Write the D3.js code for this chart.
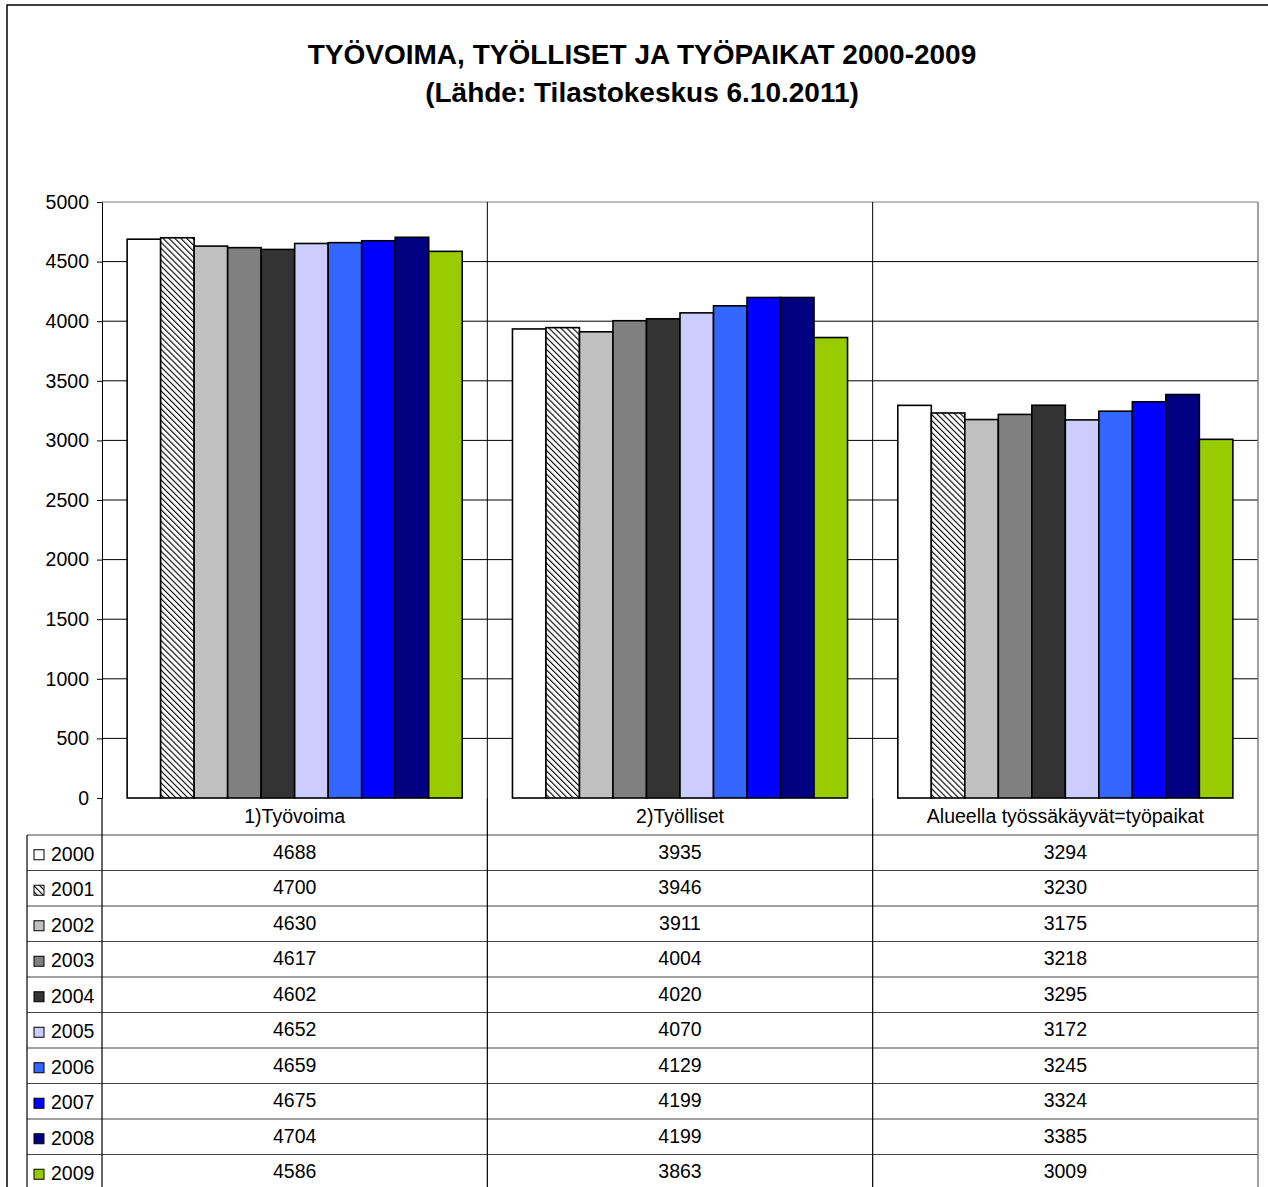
<!DOCTYPE html>
<html>
<head>
<meta charset="utf-8">
<script src="https://cdn.jsdelivr.net/npm/d3@7"></script>
<style>
  body { margin: 0; background: #fff; }
  svg { display: block; font-family: "Liberation Sans", Arial, sans-serif; }
</style>
</head>
<body>
<svg id="drawing_region"></svg>
<script>
// data
const categories = ["1)Työvoima", "2)Työlliset", "Alueella työssäkäyvät=työpaikat"];
const years = ["2000", "2001", "2002", "2003", "2004", "2005", "2006", "2007", "2008", "2009"];
const values2000 = [4688, 3935, 3294];
const values2001 = [4700, 3946, 3230];
const values2002 = [4630, 3911, 3175];
const values2003 = [4617, 4004, 3218];
const values2004 = [4602, 4020, 3295];
const values2005 = [4652, 4070, 3172];
const values2006 = [4659, 4129, 3245];
const values2007 = [4675, 4199, 3324];
const values2008 = [4704, 4199, 3385];
const values2009 = [4586, 3863, 3009];
const yTicks = [0, 500, 1000, 1500, 2000, 2500, 3000, 3500, 4000, 4500, 5000];

const seriesValues = [values2000, values2001, values2002, values2003, values2004,
                      values2005, values2006, values2007, values2008, values2009];
const colors = ["#ffffff", "url(#hatch)", "#c0c0c0", "#808080", "#333333",
                "#ccccff", "#3366ff", "#0000ff", "#000080", "#99cc00"];

const config = {
    width: 1268,
    height: 1187,
    plot: {left: 102, right: 1258, top: 202, bottom: 798},
    headerH: 37,
    rowH: 35.5,
    fontSize: 19.5
};

const svg = d3.select('#drawing_region')
    .attr('width', config.width)
    .attr('height', config.height);

// hatch pattern for 2001 (lines running top-left to bottom-right)
const defs = svg.append('defs');
const pat = defs.append('pattern')
    .attr('id', 'hatch')
    .attr('patternUnits', 'userSpaceOnUse')
    .attr('width', 4.2).attr('height', 4.2)
    .attr('patternTransform', 'rotate(-45)');
pat.append('rect').attr('width', 4.2).attr('height', 4.2).attr('fill', '#fff');
pat.append('line')
    .attr('x1', 0).attr('y1', 0).attr('x2', 0).attr('y2', 4.2)
    .attr('stroke', '#000').attr('stroke-width', 2.2);

// outer frame
svg.append('rect')
    .attr('x', 7).attr('y', 5)
    .attr('width', 1400).attr('height', 1400)
    .attr('fill', 'none').attr('stroke', '#000').attr('stroke-width', 1.5);

// title
const title = svg.append('text')
    .attr('text-anchor', 'middle')
    .attr('font-weight', 'bold')
    .attr('font-size', 28);
title.append('tspan').attr('x', 642).attr('y', 64).text('TYÖVOIMA, TYÖLLISET JA TYÖPAIKAT 2000-2009');
title.append('tspan').attr('x', 642).attr('y', 102).text('(Lähde: Tilastokeskus 6.10.2011)');

const p = config.plot;

const x0 = d3.scaleBand()
    .domain(categories)
    .range([p.left, p.right])
    .padding(0);

const x1 = d3.scaleBand()
    .domain(years)
    .range([0, x0.bandwidth()])
    .paddingInner(0)
    .paddingOuter(0.75);

const y = d3.scaleLinear()
    .domain([0, 5000])
    .range([p.bottom, p.top]);

// horizontal grid
svg.append('g')
    .selectAll('line')
    .data(yTicks.filter(d => d > 0))
    .join('line')
    .attr('x1', p.left).attr('x2', p.right)
    .attr('y1', d => y(d)).attr('y2', d => y(d))
    .attr('stroke', d => d === 5000 ? '#808080' : '#000')
    .attr('stroke-width', 1);

// category separators in plot
svg.append('g')
    .selectAll('line')
    .data(categories.slice(1))
    .join('line')
    .attr('x1', d => x0(d)).attr('x2', d => x0(d))
    .attr('y1', p.top).attr('y2', p.bottom)
    .attr('stroke', '#000');

// right border of plot
svg.append('line')
    .attr('x1', p.right).attr('x2', p.right)
    .attr('y1', p.top).attr('y2', p.bottom)
    .attr('stroke', '#808080').attr('stroke-width', 1.5);

// bars
const groups = svg.append('g')
    .selectAll('g')
    .data(categories)
    .join('g')
    .attr('transform', d => `translate(${x0(d)},0)`);

groups.selectAll('rect')
    .data((c, ci) => years.map((yr, i) => ({year: yr, i: i, value: seriesValues[i][ci]})))
    .join('rect')
    .attr('x', d => x1(d.year))
    .attr('y', d => y(d.value))
    .attr('width', x1.bandwidth())
    .attr('height', d => y(0) - y(d.value))
    .attr('fill', d => colors[d.i])
    .attr('stroke', '#000')
    .attr('stroke-width', 1.6);

// y axis
const yAxis = d3.axisLeft(y)
    .tickValues(yTicks)
    .tickSize(5)
    .tickPadding(8)
    .tickFormat(d3.format('d'));

const yg = svg.append('g')
    .attr('transform', `translate(${p.left},0)`)
    .call(yAxis);
yg.select('.domain').attr('stroke', '#000');
yg.selectAll('.tick line').attr('stroke', '#000');
yg.selectAll('.tick text')
    .attr('font-size', config.fontSize)
    .attr('font-family', '"Liberation Sans", Arial, sans-serif')
    .attr('fill', '#000');

// data table
const tableTop = p.bottom;
const headerBottom = tableTop + config.headerH;
const rowY = i => headerBottom + i * config.rowH;
const legendLeft = 27;

const table = svg.append('g');

// header labels
table.selectAll('text.head')
    .data(categories)
    .join('text')
    .attr('class', 'head')
    .attr('x', d => x0(d) + x0.bandwidth() / 2)
    .attr('y', tableTop + config.headerH / 2 + 6)
    .attr('text-anchor', 'middle')
    .attr('font-size', config.fontSize)
    .text(d => d);

// horizontal lines
table.selectAll('line.h')
    .data(d3.range(years.length + 1))
    .join('line')
    .attr('class', 'h')
    .attr('x1', legendLeft).attr('x2', p.right)
    .attr('y1', i => rowY(i)).attr('y2', i => rowY(i))
    .attr('stroke', '#444').attr('stroke-width', 1.2);

// vertical lines
const vx = [p.left].concat(categories.slice(1).map(c => x0(c)), [p.right]);
table.selectAll('line.v')
    .data(vx)
    .join('line')
    .attr('class', 'v')
    .attr('x1', d => d).attr('x2', d => d)
    .attr('y1', tableTop).attr('y2', config.height)
    .attr('stroke', (d, i) => i === vx.length - 1 ? '#808080' : '#000')
    .attr('stroke-width', (d, i) => i === vx.length - 1 ? 1.5 : 1.2);

table.append('line')
    .attr('x1', legendLeft).attr('x2', legendLeft)
    .attr('y1', headerBottom).attr('y2', config.height)
    .attr('stroke', '#000').attr('stroke-width', 1.2);

// rows
const rows = table.selectAll('g.row')
    .data(years)
    .join('g')
    .attr('class', 'row')
    .attr('transform', (d, i) => `translate(0,${rowY(i)})`);

rows.append('rect')
    .attr('x', 34).attr('y', config.rowH / 2 - 3)
    .attr('width', 10).attr('height', 10)
    .attr('fill', (d, i) => colors[i])
    .attr('stroke', '#000').attr('stroke-width', 1);

rows.append('text')
    .attr('x', 51)
    .attr('y', config.rowH / 2 + 8)
    .attr('font-size', config.fontSize)
    .text(d => d);

rows.selectAll('text.val')
    .data((d, i) => categories.map((c, ci) => ({c: c, v: seriesValues[i][ci]})))
    .join('text')
    .attr('class', 'val')
    .attr('x', d => x0(d.c) + x0.bandwidth() / 2)
    .attr('y', config.rowH / 2 + 6)
    .attr('text-anchor', 'middle')
    .attr('font-size', config.fontSize)
    .text(d => d.v);
</script>
</body>
</html>
